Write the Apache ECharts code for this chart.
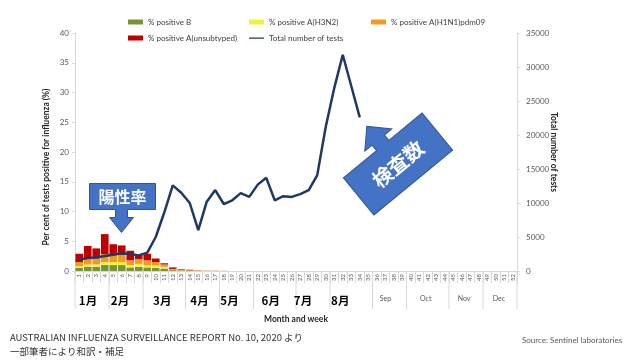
<!DOCTYPE html>
<html><head><meta charset="utf-8">
<script src="https://cdn.jsdelivr.net/npm/echarts@6/dist/echarts.min.js"></script>
<style>html,body{margin:0;padding:0;background:#fff}#c{width:630px;height:361px}</style>
</head><body><div id="c"></div>
<script>
// ---- data ----
const weekLabels = ['1','2','3','4','5','6','7','8','9','10','11','12','13','14','15','16','17','18','19','20','21','22','23','24','25','26','27','28','29','30','31','32','33','34','35','36','37','38','39','40','41','42','43','44','45','46','47','48','49','50','51','52'];
const posB      = [0.5,0.7,0.7,1.0,1.0,1.0,0.6,0.7,0.6,0.5,0.4,0.15,0.1,0.05,0.03,0.02,0.02,0.01,0,0,0,0,0,0,0,0,0,0,0,0,0,0,0,0];
const posH3N2   = [0.3,0.4,0.4,0.5,0.5,0.5,0.4,0.5,0.4,0.4,0.3,0.05,0.02,0.01,0.01,0,0,0,0,0,0,0,0,0,0,0,0,0,0,0,0,0,0,0];
const posH1N1   = [0.7,1.0,1.0,1.3,1.3,1.2,0.8,0.8,0.8,0.6,0.4,0.15,0.08,0.05,0.03,0.02,0.01,0.01,0,0,0,0,0,0,0,0,0,0,0,0,0,0,0,0];
const posUnsub  = [1.4,2.1,1.7,3.4,1.7,1.6,1.6,0.7,1.1,0.6,0.2,0.25,0.1,0.1,0.04,0.02,0.02,0.01,0,0,0,0,0,0,0,0,0,0,0,0,0,0,0,0];
const totalTests = [1700,1900,2000,2200,2400,2600,2500,2300,2700,5000,8600,12600,11500,10000,6000,10200,11900,9850,10400,11450,10900,12700,13700,10400,11000,10900,11300,11900,14100,21200,26900,31800,27200,22600];
const monthNames     = ['1月','2月','3月','4月','5月','6月','7月','8月','Sep','Oct','Nov','Dec'];
const monthFirstWeek = [1,5,9,14,18,22,27,31,36,40,45,49];
const monthLastWeek  = [4,8,13,17,21,26,30,35,39,44,48,52];
const leftTicks  = {min:0, max:40, interval:5};
const rightTicks = {min:0, max:35000, interval:5000};

// layout-only: horizontal nudges (px) of the hand-placed month labels
const monthLabelNudge = [-4,-6,-2,-3,-7,-4,-10,-11,-4,-2,-2,-1];

const monthData = monthNames.map((m,i)=>[monthFirstWeek[i]-1, monthLastWeek[i]-1, i]);

const LAT = 'Lato, "Liberation Sans", sans-serif';
const JP = '"Noto Sans CJK JP", sans-serif';
const axisGray = '#D9D9D9';
const txtGray = '#595959';

const chart = echarts.init(document.getElementById('c'), null, {renderer:'canvas'});

function monthRender(params, api){
  const s = api.coord([api.value(0), 0]);
  const e = api.coord([api.value(1), 0]);
  const bw = api.size([1,0])[0];
  const x0 = s[0]-bw/2, x1 = e[0]+bw/2, y0 = s[1];
  const idx = api.value(2);
  const name = monthNames[idx];
  const jp = /月/.test(name);
  const children = [
    {type:'line', shape:{x1:x1,y1:y0,x2:x1,y2:y0+38}, style:{stroke:axisGray, lineWidth:1}},
    {type:'text', style:{x:(x0+x1)/2 + monthLabelNudge[idx], y:y0+(jp?30:28), text:name, align:'center', verticalAlign:'middle',
      fontSize: jp?11.5:7, fontWeight: jp?'bold':'normal', fontFamily: jp?JP:LAT, fill: jp?'#000':txtGray}}
  ];
  if (api.value(0)===0) children.push({type:'line', shape:{x1:x0,y1:y0,x2:x0,y2:y0+38}, style:{stroke:axisGray, lineWidth:1}});
  return {type:'group', children};
}

const lineIcon = 'path://M0,0L0.01,0L0.01,0.01L0,0.01ZM0,2L15,2L15,3.2L0,3.2ZM14.99,5L15,5L15,5.01L14.99,5.01Z';

const legendCommon = {orient:'vertical', top:13, itemGap:8, itemWidth:15, itemHeight:5,
  textStyle:{fontSize:8, color:'#404040', fontFamily:LAT}, selectedMode:false};

const option = {
  animation:false,
  backgroundColor:'#fff',
  textStyle:{fontFamily:LAT},
  grid:{left:75, right:113, top:33, bottom:90},
  legend:[
    Object.assign({left:123, data:[{name:'% positive B',icon:'rect'},{name:'% positive A(unsubtyped)',icon:'rect'}]}, legendCommon),
    Object.assign({left:244, data:[{name:'% positive A(H3N2)',icon:'rect'},{name:'Total number of tests', icon:lineIcon}]}, legendCommon),
    Object.assign({left:366, data:[{name:'% positive A(H1N1)pdm09',icon:'rect'}]}, legendCommon)
  ],
  title:[
    {text:'AUSTRALIAN INFLUENZA SURVEILLANCE REPORT No. 10, 2020 より\n一部筆者により和訳・補足', left:5, top:325,
     textStyle:{fontSize:9.5, fontWeight:'normal', color:'#333', fontFamily:JP, lineHeight:14}},
    {text:'Source: Sentinel laboratories', left:517, top:331,
     textStyle:{fontSize:8, fontWeight:'normal', color:txtGray, fontFamily:LAT}}
  ],
  xAxis:[{
    type:'category', data:weekLabels, boundaryGap:true,
    name:'Month and week', nameLocation:'middle', nameGap:44, nameMoveOverlap:false,
    nameTextStyle:{fontSize:8.5, fontWeight:'bold', color:'#262626', fontFamily:LAT},
    axisLine:{lineStyle:{color:axisGray}},
    axisTick:{show:true, interval:0, length:12, lineStyle:{color:axisGray}},
    axisLabel:{interval:0, rotate:90, fontSize:6, color:txtGray, margin:3, fontFamily:LAT},
    splitLine:{show:false}
  }],
  yAxis:[{
    type:'value', min:leftTicks.min, max:leftTicks.max, interval:leftTicks.interval, position:'left',
    name:'Per cent of tests positive for influenza (%)', nameLocation:'middle', nameGap:24, nameRotate:90, nameMoveOverlap:false,
    nameTextStyle:{fontSize:8.5, fontWeight:'bold', color:'#262626', fontFamily:LAT, padding:[0,30,0,0]},
    axisLine:{show:true, lineStyle:{color:axisGray}},
    axisTick:{show:true, length:3, lineStyle:{color:axisGray}},
    axisLabel:{fontSize:8, color:txtGray, margin:6},
    splitLine:{show:false}
  },{
    type:'value', min:rightTicks.min, max:rightTicks.max, interval:rightTicks.interval, position:'right',
    name:'Total number of tests', nameLocation:'middle', nameGap:32, nameRotate:-90, nameMoveOverlap:false,
    nameTextStyle:{fontSize:8.5, fontWeight:'bold', color:'#262626', fontFamily:LAT},
    axisLine:{show:true, lineStyle:{color:axisGray}},
    axisTick:{show:true, length:3, lineStyle:{color:axisGray}},
    axisLabel:{fontSize:8, color:txtGray, margin:9, formatter:(v)=>String(v)},
    splitLine:{show:false}
  }],
  series:[
    {name:'% positive B', type:'bar', stack:'p', data:posB, barCategoryGap:'10%', itemStyle:{color:'#77933C'}},
    {name:'% positive A(H3N2)', type:'bar', stack:'p', data:posH3N2, itemStyle:{color:'#F5F03A'}},
    {name:'% positive A(H1N1)pdm09', type:'bar', stack:'p', data:posH1N1, itemStyle:{color:'#F39A1E'}},
    {name:'% positive A(unsubtyped)', type:'bar', stack:'p', data:posUnsub, itemStyle:{color:'#C00000'}},
    {name:'Total number of tests', type:'line', yAxisIndex:1, data:totalTests, symbol:'none', z:5,
     lineStyle:{color:'#1F3864', width:2.5}, itemStyle:{color:'#1F3864'}},
    {type:'custom', renderItem:monthRender, data:monthData, clip:false, silent:true,
     dimensions:[{name:'s',type:'number'},{name:'e',type:'number'},{name:'m',type:'number'}],
     encode:{x:0}}
  ],
  graphic:[
    {type:'group', left:89, top:183, children:[
      {type:'polygon', shape:{points:[[0,0],[66,0],[66,26],[38,26],[38,34],[44,34],[32,49],[20,34],[26,34],[26,26],[0,26]]},
       style:{fill:'#4472C4', stroke:'#2F5597', lineWidth:1}},
      {type:'text', x:33, y:13, style:{text:'陽性率', align:'center', verticalAlign:'middle', fill:'#fff',
       fontSize:16, fontWeight:'bold', fontFamily:JP}}
    ]},
    {type:'group', x:398, y:164, rotation:39.5*Math.PI/180, children:[
      {type:'polygon', shape:{points:[[-51,-24],[-8,-24],[-8,-31],[-17.5,-31],[0,-49],[17.5,-31],[8,-31],[8,-24],[51,-24],[51,24],[-51,24]]},
       style:{fill:'#4472C4', stroke:'#2F5597', lineWidth:1}},
      {type:'text', x:0, y:0, style:{text:'検査数', align:'center', verticalAlign:'middle', fill:'#fff',
       fontSize:20, fontWeight:'bold', fontFamily:JP}}
    ]}
  ]
};
chart.setOption(option);
</script></body></html>
